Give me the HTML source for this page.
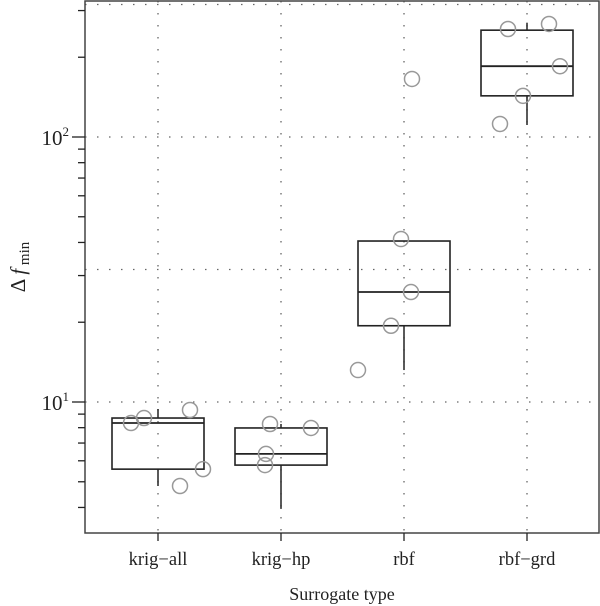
<!DOCTYPE html>
<html><head><meta charset="utf-8"><style>
html,body{margin:0;padding:0;background:#fff;}
svg{display:block;font-family:"Liberation Serif",serif;}
</style></head><body>
<svg id="chart" width="600" height="606"></svg>
<script>
const categories = ["krig\u2212all","krig\u2212hp","rbf","rbf\u2212grd"];
const q1 = [5.58, 5.78, 19.4, 143];
const medians = [8.33, 6.37, 26.0, 185];
const q3 = [8.70, 7.98, 40.5, 253];
const whiskerLow = [4.82, 3.95, 13.2, 111];
const whiskerHigh = [9.41, 8.26, 40.5, 270];
const pointsVals = [[8.33,8.70,9.33,5.58,4.82],[8.26,6.37,5.78,7.98],[13.2,19.4,41.2,26.0,165.6],[112,255.6,267,185,143]];
const pointsJitter = [[-27,-14,32,45,22],[-11,-15,-16,30],[-46,-13,-3,7,8],[-27,-19,22,33,-4]];
const yTickExps = [1,2];

const NS="http://www.w3.org/2000/svg";
const svg=document.getElementById('chart');
const L=85,R=599,T=1,B=533;
const Y10=402, DEC=265;
function y(v){return Y10-(Math.log10(v)-1)*DEC;}
function x(i){return 158+i*123;}
function el(t,a,p){const e=document.createElementNS(NS,t);for(const k in a)e.setAttribute(k,a[k]);(p||svg).appendChild(e);return e;}

for(let i=0;i<categories.length;i++){
  const g=el('line',{x1:x(i),x2:x(i),y1:T,y2:B,stroke:'#666','stroke-width':1.3,'stroke-dasharray':'1.5 10.5'});
  
  
}
for(const e of [1,1.5,2,2.5]){
  const yy=Y10-(e-1)*DEC;
  const g=el('line',{x1:L,x2:R,y1:yy,y2:yy,stroke:'#666','stroke-width':1.3,'stroke-dasharray':'1.5 10.5'});
  
  
}
const fr=el('rect',{x:L,y:T,width:R-L,height:B-T,fill:'none',stroke:'#444','stroke-width':1.5});



for(let d=3;d<=300;){
  const yy=y(d);
  if(yy>=T&&yy<=B){
    const major=Math.abs(Math.log10(d)-Math.round(Math.log10(d)))<1e-9;
    const t=el('line',{x1:major?L-13:L-7,x2:L,y1:yy,y2:yy,stroke:'#222','stroke-width':1.3});
    
    
  }
  const step=Math.pow(10,Math.floor(Math.log10(d)+1e-9));
  d=Math.round((d+step)*1000)/1000;
}
for(const e of yTickExps){
  const t=el('text',{x:L-16,y:y(Math.pow(10,e))+8,'text-anchor':'end','font-size':21,fill:'#222'});
  
  
  t.innerHTML='10<tspan dy="-9" font-size="13">'+e+'</tspan>';
}
categories.forEach((c,i)=>{
  const t=el('line',{x1:x(i),x2:x(i),y1:B,y2:B+8,stroke:'#222','stroke-width':1.3});
  
  
  const lb=el('text',{x:x(i),y:565,'text-anchor':'middle','font-size':18.5,fill:'#222'});
  
  
  lb.textContent=c;
});
const xt=el('text',{x:342,y:600,'text-anchor':'middle','font-size':18,fill:'#222'});


xt.textContent='Surrogate type';
const yt=el('text',{transform:'translate(25,267) rotate(-90)','text-anchor':'middle','font-size':21,fill:'#222'});


yt.innerHTML='\u0394 <tspan font-style="italic">f</tspan><tspan dy="4" font-size="15"> min</tspan>';

categories.forEach((c,i)=>{
  const cx=x(i),hw=46;
  const g=el('g',{});
  
  
  el('line',{x1:cx,x2:cx,y1:y(whiskerHigh[i]),y2:y(q3[i]),stroke:'#222','stroke-width':1.5},g);
  el('line',{x1:cx,x2:cx,y1:y(q1[i]),y2:y(whiskerLow[i]),stroke:'#222','stroke-width':1.5},g);
  el('rect',{x:cx-hw,y:y(q3[i]),width:2*hw,height:y(q1[i])-y(q3[i]),fill:'none',stroke:'#222','stroke-width':1.6},g);
  el('line',{x1:cx-hw,x2:cx+hw,y1:y(medians[i]),y2:y(medians[i]),stroke:'#222','stroke-width':1.8},g);
});
pointsVals.forEach((arr,i)=>{
  arr.forEach((v,j)=>{
    const p=el('circle',{cx:x(i)+pointsJitter[i][j],cy:y(v),r:7.5,fill:'none',stroke:'#999','stroke-width':1.5});
    
    
  });
});
</script>
</body></html>
